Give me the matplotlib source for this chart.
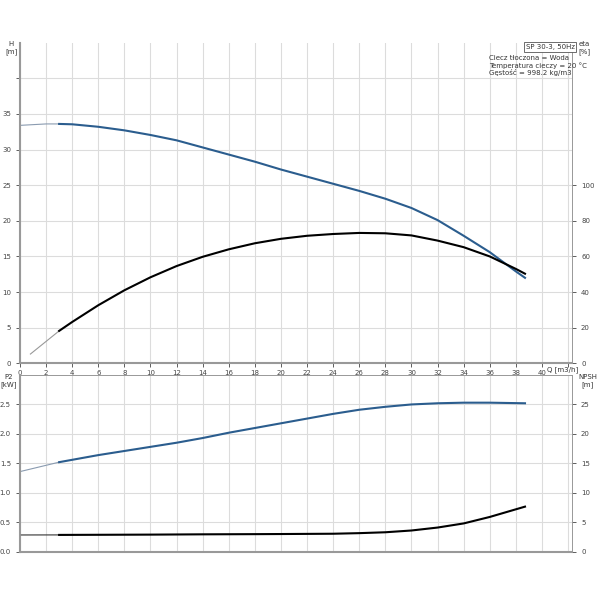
import matplotlib.pyplot as plt

# Pump curve data (SP 30-3, 50Hz)
# H [m] vs Q [m3/h]
q_h = [3, 4, 6, 8, 10, 12, 14, 16, 18, 20, 22, 24, 26, 28, 30, 32, 34, 36, 38, 38.7]
h = [33.6, 33.55, 33.2, 32.7, 32.05, 31.3, 30.3, 29.3, 28.3, 27.2, 26.2, 25.2,
     24.2, 23.1, 21.8, 20.1, 17.9, 15.6, 12.9, 12.0]
q_h_ext = [0, 1, 2, 3]
h_ext = [33.4, 33.5, 33.6, 33.6]

# eta [%]
q_eta = [3, 4, 6, 8, 10, 12, 14, 16, 18, 20, 22, 24, 26, 28, 30, 32, 34, 36, 38, 38.7]
eta = [18.2, 23.2, 32.6, 41.0, 48.3, 54.6, 59.8, 64.0, 67.4, 69.9, 71.6, 72.6,
       73.2, 73.0, 71.8, 68.9, 65.2, 60.0, 53.0, 50.3]
q_eta_ext = [0.8, 3]
eta_ext = [5.2, 18.2]

# P2 [kW]
q_p2 = [3, 4, 6, 8, 10, 12, 14, 16, 18, 20, 22, 24, 26, 28, 30, 32, 34, 36, 38.7]
p2 = [1.52, 1.56, 1.64, 1.71, 1.78, 1.85, 1.93, 2.02, 2.10, 2.18, 2.26, 2.34,
      2.41, 2.46, 2.50, 2.52, 2.53, 2.53, 2.52]
q_p2_ext = [0, 3]
p2_ext = [1.36, 1.52]

# NPSH [m]
q_npsh = [3, 6, 10, 14, 18, 20, 24, 26, 28, 30, 32, 34, 36, 38.7]
npsh = [2.85, 2.87, 2.9, 2.95, 2.98, 3.0, 3.05, 3.15, 3.3, 3.6, 4.1, 4.8, 5.9, 7.65]
q_npsh_ext = [0, 3]
npsh_ext = [2.84, 2.85]

x_ticks = list(range(0, 44, 2))
x_labels = [str(v) if v <= 40 else '' for v in x_ticks]

BLUE = '#2b5d8e'
GRID = '#dcdcdc'
SPINE = '#999999'
FS = 5

fig = plt.figure(figsize=(6, 6), dpi=100)

# --- upper chart: H and eta ---
ax1 = fig.add_axes([0.0333, 0.3945, 0.92, 0.5343])
ax1.set_xlim(0, 42.3)
ax1.set_ylim(0, 45)
ax1.set_xticks(x_ticks)
ax1.set_xticklabels(x_labels)
ax1.set_yticks(range(0, 45, 5))
ax1.set_yticklabels([str(v) if v <= 35 else '' for v in range(0, 45, 5)])
ax1.grid(True, color=GRID, linewidth=0.8)
ax1.set_axisbelow(True)
ax1.plot(q_h_ext, h_ext, color='#8a9bb0', linewidth=0.8)
ax1.plot(q_h, h, color=BLUE, linewidth=1.5)

ax1r = ax1.twinx()
ax1r.set_ylim(0, 180)
ax1r.set_yticks(range(0, 120, 20))
ax1r.plot(q_eta_ext, eta_ext, color='#999999', linewidth=0.8)
ax1r.plot(q_eta, eta, color='black', linewidth=1.5)

# --- lower chart: P2 and NPSH ---
ax2 = fig.add_axes([0.0333, 0.0805, 0.92, 0.2945])
ax2.set_xlim(0, 42.3)
ax2.set_ylim(0, 3)
ax2.set_xticks(x_ticks)
ax2.set_xticklabels([])
ax2.set_yticks([0, 0.5, 1.0, 1.5, 2.0, 2.5])
ax2.set_yticklabels(['0.0', '0.5', '1.0', '1.5', '2.0', '2.5'])
ax2.grid(True, color=GRID, linewidth=0.8)
ax2.set_axisbelow(True)
ax2.plot(q_p2_ext, p2_ext, color='#8a9bb0', linewidth=0.8)
ax2.plot(q_p2, p2, color=BLUE, linewidth=1.5)

ax2r = ax2.twinx()
ax2r.set_ylim(0, 30)
ax2r.set_yticks(range(0, 30, 5))
ax2r.plot(q_npsh_ext, npsh_ext, color='#333333', linewidth=0.8)
ax2r.plot(q_npsh, npsh, color='black', linewidth=1.5)

for ax in (ax1, ax1r, ax2, ax2r):
    ax.tick_params(labelsize=FS, colors='#444444', length=3, width=0.6)
    for s in ax.spines.values():
        s.set_color(SPINE)
        s.set_linewidth(0.6)

for ax in (ax1, ax2):
    ax.spines['left'].set_linewidth(1.5)
    ax.spines['bottom'].set_linewidth(1.5)
ax1.spines['top'].set_visible(False)
ax1r.spines['top'].set_visible(False)
ax1.tick_params(axis='x', pad=1.5)
ax2.tick_params(axis='x', length=0)

# axis captions
fig.text(11 / 600, 1 - 48 / 600, 'H\n[m]', fontsize=FS, ha='center', va='center', color='#333333')
fig.text(584 / 600, 1 - 48 / 600, 'eta\n[%]', fontsize=FS, ha='center', va='center', color='#333333')
fig.text(9 / 600, 1 - 381 / 600, 'P2\n[kW]', fontsize=FS, ha='center', va='center', color='#333333')
fig.text(588 / 600, 1 - 381 / 600, 'NPSH\n[m]', fontsize=FS, ha='center', va='center', color='#333333')
fig.text(547 / 600, 1 - 370 / 600, 'Q [m3/h]', fontsize=FS, ha='left', va='center', color='#333333')

# info box
fig.text(550 / 600, 1 - 47 / 600, 'SP 30-3, 50Hz', fontsize=FS, ha='center', va='center', color='#333333',
         bbox=dict(boxstyle='square,pad=0.25', fc='white', ec='#555555', lw=0.6))
fig.text(489 / 600, 1 - 55 / 600,
         'Ciecz tłoczona = Woda\nTemperatura cieczy = 20 °C\nGęstość = 998.2 kg/m3',
         fontsize=FS, ha='left', va='top', color='#333333', linespacing=1.15)

fig.savefig('out.png', dpi=100, facecolor='white')
